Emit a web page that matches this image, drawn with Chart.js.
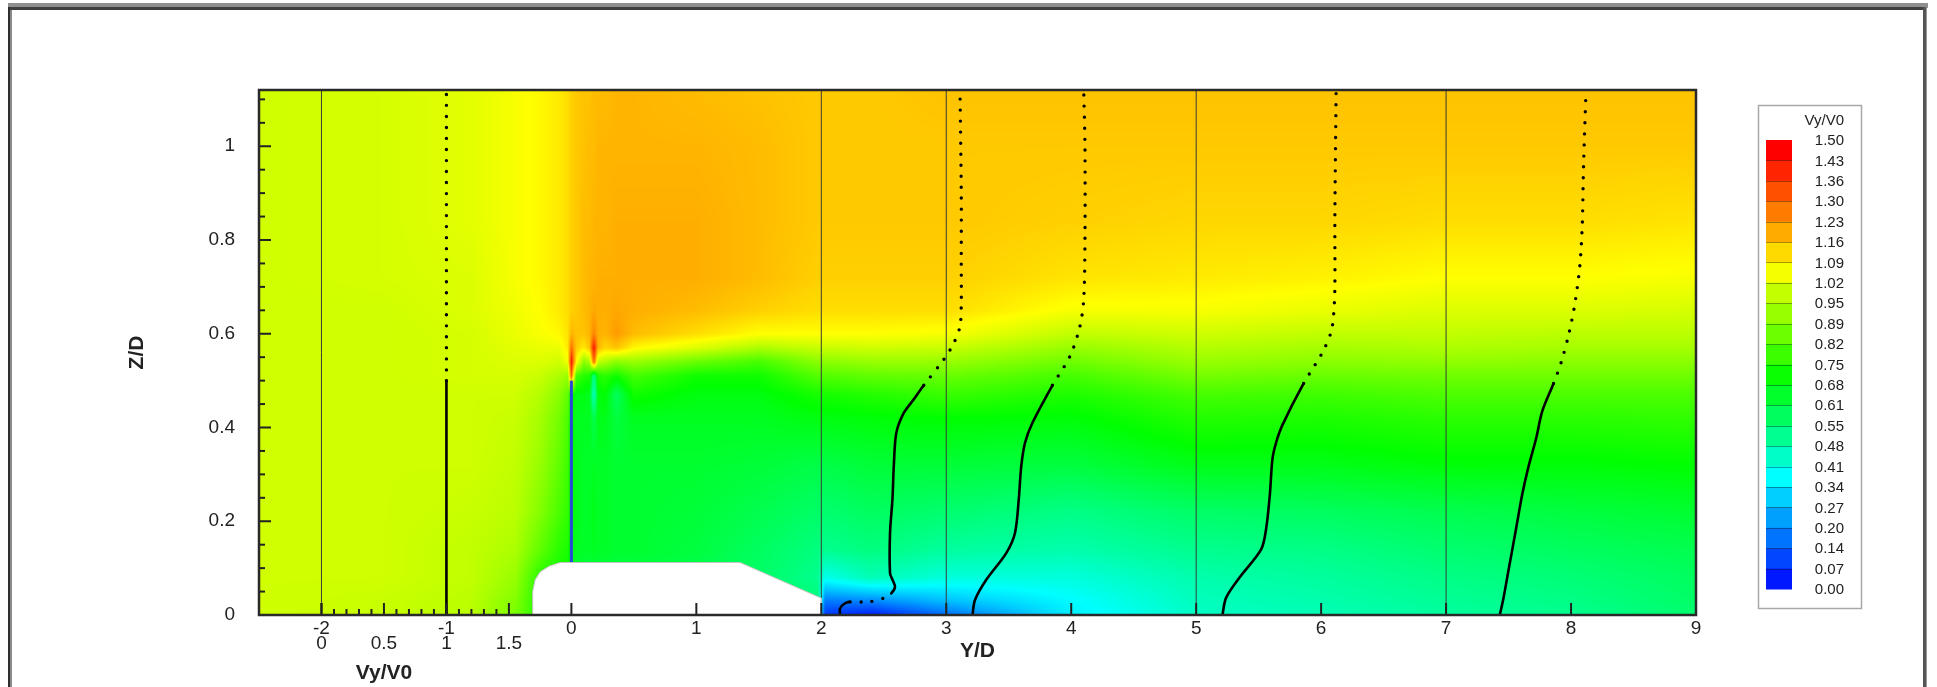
<!DOCTYPE html>
<html>
<head>
<meta charset="utf-8">
<script src="https://cdn.jsdelivr.net/npm/chart.js@4.4.1/dist/chart.umd.min.js"></script>
<style>
  html, body { margin: 0; padding: 0; background: #fff; }
  canvas { display: block; }
</style>
</head>
<body>
<canvas id="myChart" width="1937" height="687"></canvas>
<script>
const FONT = "'Liberation Sans', Arial, Helvetica, sans-serif";

const xMin = -2.5, xMax = 9, zMax = 1.12;

// contour field Vy/V0: one column per gridX entry, values bottom -> top along gridZ
const gridX = [-2.5, -1.5, -0.8, -0.45, -0.25, -0.1, -0.03, 0, 0.04, 0.1, 0.145, 0.18, 0.215, 0.27, 0.36, 0.5,
               1.0, 1.5, 1.97, 2.03, 2.4, 3.0, 4.0, 5.0, 6.0, 7.0, 8.0, 9.0];
const gridZ = [0, 0.03, 0.08, 0.14, 0.22, 0.32, 0.42, 0.47, 0.51, 0.54, 0.57, 0.6, 0.65, 0.72, 0.84, 1.0, 1.12];
const vyField = [
  [1.00,1.00,1.00,1.00,1.00,1.00,1.00,1.00,1.00,1.00,1.00,1.00,1.00,1.00,1.00,1.00,1.00],
  [0.99,0.99,1.00,1.00,1.00,1.00,1.00,1.00,1.00,1.00,1.00,1.00,1.00,1.01,1.01,1.01,1.01],
  [0.97,0.97,0.98,0.98,0.99,1.00,1.00,1.00,1.01,1.01,1.01,1.01,1.02,1.02,1.03,1.03,1.03],
  [0.88,0.89,0.92,0.95,0.97,0.98,0.99,1.00,1.01,1.02,1.03,1.04,1.05,1.06,1.06,1.06,1.06],
  [0.74,0.74,0.76,0.84,0.89,0.92,0.94,0.96,0.99,1.02,1.04,1.06,1.07,1.08,1.08,1.08,1.08],
  [0.72,0.72,0.72,0.76,0.81,0.84,0.87,0.90,0.95,1.00,1.04,1.08,1.10,1.10,1.10,1.10,1.10],
  [0.70,0.70,0.70,0.74,0.77,0.79,0.81,0.84,0.92,1.05,1.10,1.11,1.12,1.12,1.12,1.12,1.12],
  [0.66,0.66,0.66,0.68,0.70,0.70,0.70,0.72,1.30,1.42,1.28,1.18,1.14,1.14,1.14,1.14,1.14],
  [0.63,0.63,0.63,0.66,0.67,0.67,0.66,0.68,0.80,1.08,1.15,1.16,1.15,1.15,1.15,1.15,1.15],
  [0.62,0.62,0.62,0.65,0.65,0.65,0.66,0.68,0.75,0.90,1.10,1.16,1.17,1.17,1.17,1.16,1.16],
  [0.62,0.62,0.62,0.65,0.65,0.65,0.66,0.66,0.74,0.95,1.16,1.18,1.18,1.18,1.17,1.17,1.16],
  [0.62,0.62,0.62,0.66,0.67,0.66,0.60,0.45,0.52,1.30,1.42,1.25,1.20,1.18,1.18,1.17,1.17],
  [0.62,0.62,0.62,0.65,0.65,0.65,0.67,0.68,0.74,0.98,1.18,1.19,1.19,1.19,1.18,1.18,1.17],
  [0.62,0.62,0.62,0.65,0.65,0.65,0.67,0.70,0.76,0.95,1.13,1.18,1.19,1.19,1.18,1.18,1.17],
  [0.62,0.62,0.62,0.64,0.64,0.64,0.62,0.58,0.72,0.90,1.16,1.22,1.20,1.19,1.19,1.18,1.18],
  [0.62,0.62,0.62,0.64,0.64,0.64,0.66,0.72,0.80,0.92,1.08,1.17,1.19,1.19,1.19,1.18,1.18],
  [0.60,0.60,0.60,0.62,0.63,0.64,0.66,0.68,0.72,0.85,1.02,1.12,1.17,1.19,1.19,1.18,1.17],
  [0.57,0.57,0.57,0.58,0.60,0.63,0.66,0.68,0.72,0.80,0.95,1.07,1.14,1.17,1.17,1.17,1.16],
  [0.55,0.55,0.52,0.54,0.57,0.61,0.68,0.73,0.82,0.90,0.99,1.07,1.12,1.14,1.15,1.15,1.15],
  [0.08,0.18,0.40,0.52,0.56,0.61,0.68,0.73,0.82,0.90,0.99,1.07,1.12,1.14,1.15,1.15,1.15],
  [0.04,0.20,0.47,0.54,0.58,0.63,0.69,0.75,0.84,0.92,1.00,1.07,1.12,1.14,1.15,1.15,1.15],
  [0.16,0.28,0.42,0.50,0.56,0.63,0.70,0.78,0.85,0.92,0.99,1.06,1.12,1.14,1.15,1.15,1.16],
  [0.35,0.37,0.42,0.48,0.53,0.62,0.69,0.74,0.80,0.86,0.92,0.98,1.06,1.11,1.14,1.15,1.16],
  [0.45,0.46,0.48,0.52,0.57,0.67,0.75,0.80,0.87,0.92,0.96,1.00,1.06,1.10,1.13,1.15,1.16],
  [0.47,0.48,0.50,0.53,0.58,0.67,0.74,0.79,0.85,0.90,0.94,0.98,1.04,1.09,1.13,1.15,1.16],
  [0.50,0.51,0.53,0.56,0.60,0.69,0.76,0.81,0.86,0.91,0.95,0.98,1.02,1.07,1.12,1.15,1.16],
  [0.52,0.53,0.55,0.58,0.62,0.69,0.76,0.81,0.86,0.90,0.94,0.97,1.02,1.07,1.12,1.15,1.16],
  [0.56,0.57,0.58,0.60,0.64,0.70,0.77,0.81,0.86,0.90,0.94,0.97,1.01,1.06,1.11,1.15,1.16]
];

// colour map of the flood and of the legend
const cmapStops = [0, 0.375, 0.70, 1.07, 1.45, 1.50];
const cmapColors = [[0, 0, 255], [0, 255, 255], [0, 255, 0], [255, 255, 0], [255, 0, 0], [255, 0, 0]];
const legendLevels = ["1.50", "1.43", "1.36", "1.30", "1.23", "1.16", "1.09", "1.02", "0.95", "0.89", "0.82", "0.75",
                      "0.68", "0.61", "0.55", "0.48", "0.41", "0.34", "0.27", "0.20", "0.14", "0.07", "0.00"];

// body outline (white, zero field) and the thin plate at Y/D = 0
const bodyY = [-0.31, -0.31, -0.29, -0.25, -0.18, -0.09, 1.35, 2.0, 2.0];
const bodyZ = [0, 0.05, 0.075, 0.092, 0.104, 0.112, 0.112, 0.036, 0];
const plateZ = [0.112, 0.5];

// velocity profiles: station Y/D and Vy/V0 against Z/D
const stations = [-2, 2, 3, 5, 7];
const vyTicks = [0, 0.5, 1, 1.5];
const profZ0 = [0, 0.5, 1.12];
const profVy0 = [1, 1, 1];
const profZ1 = [0, 0.014, 0.025, 0.028, 0.028, 0.037, 0.046, 0.06, 0.075, 0.089, 0.175, 0.25, 0.317, 0.388, 0.431, 0.46, 0.49, 0.545, 0.58, 0.616, 0.666, 0.75, 0.9, 1.12];
const profVy1 = [0.15, 0.15, 0.19, 0.23, 0.38, 0.51, 0.56, 0.59, 0.57, 0.55, 0.55, 0.57, 0.58, 0.60, 0.66, 0.74, 0.82, 0.98, 1.06, 1.11, 1.12, 1.12, 1.12, 1.11];
const profZ2 = [0, 0.032, 0.075, 0.132, 0.175, 0.246, 0.317, 0.367, 0.41, 0.49, 0.552, 0.616, 0.673, 0.8, 1.0, 1.12];
const profVy2 = [0.21, 0.23, 0.32, 0.48, 0.55, 0.58, 0.60, 0.63, 0.69, 0.85, 0.99, 1.07, 1.10, 1.11, 1.11, 1.10];
const profZ3 = [0, 0.037, 0.081, 0.14, 0.184, 0.258, 0.332, 0.368, 0.405, 0.494, 0.56, 0.604, 0.641, 0.70, 0.847, 1.12];
const profVy3 = [0.21, 0.24, 0.35, 0.52, 0.56, 0.59, 0.61, 0.64, 0.69, 0.86, 1.01, 1.08, 1.10, 1.11, 1.11, 1.12];
const profZ4 = [0, 0.037, 0.096, 0.184, 0.258, 0.317, 0.376, 0.435, 0.494, 0.538, 0.597, 0.663, 0.744, 0.833, 0.958, 1.12];
const profVy4 = [0.43, 0.46, 0.50, 0.56, 0.61, 0.66, 0.72, 0.77, 0.86, 0.92, 0.98, 1.03, 1.07, 1.09, 1.10, 1.12];
// z ranges where the profile samples are sparse (drawn as dots)
const sparseUpper = [0.49, 2];
const sparseWall = [0.027, 0.05];

const profZ = [profZ0, profZ1, profZ2, profZ3, profZ4];
const profVy = [profVy0, profVy1, profVy2, profVy3, profVy4];
const profSparse = [[sparseUpper], [sparseWall, sparseUpper], [sparseUpper], [sparseUpper], [sparseUpper]];

function cmap(v) {
  v = Math.max(cmapStops[0], Math.min(cmapStops[cmapStops.length - 1], v));
  let k = 0;
  while (k < cmapStops.length - 2 && v > cmapStops[k + 1]) k++;
  const t = (v - cmapStops[k]) / (cmapStops[k + 1] - cmapStops[k]);
  const a = cmapColors[k], b = cmapColors[k + 1];
  return [a[0] + (b[0] - a[0]) * t, a[1] + (b[1] - a[1]) * t, a[2] + (b[2] - a[2]) * t];
}

function locate(arr, v) {
  if (v <= arr[0]) return [0, 0];
  if (v >= arr[arr.length - 1]) return [arr.length - 2, 1];
  let i = 0;
  while (v > arr[i + 1]) i++;
  return [i, (v - arr[i]) / (arr[i + 1] - arr[i])];
}

const framePlugin = {
  id: 'frame',
  beforeDraw(chart) {
    const { ctx, width, height } = chart;
    ctx.save();
    ctx.fillStyle = '#fff';
    ctx.fillRect(0, 0, width, height);
    ctx.fillStyle = '#8f8f8f';
    ctx.fillRect(8, 3, 1920, 5);
    ctx.fillStyle = '#404040';
    ctx.fillRect(8, 7, 1919, 3);
    ctx.fillStyle = '#2e2e2e';
    ctx.fillRect(8, 7, 2, height);
    ctx.fillStyle = '#8a8a8a';
    ctx.fillRect(10, 10, 2, height);
    ctx.fillStyle = '#555';
    ctx.fillRect(1923, 7, 3, height);
    ctx.fillStyle = '#999';
    ctx.fillRect(1926, 7, 1, height);
    ctx.restore();
  }
};

const fieldPlugin = {
  id: 'field',
  beforeDatasetsDraw(chart) {
    const { ctx, chartArea: a, scales: { x, y } } = chart;
    const left = Math.round(a.left), top = Math.round(a.top);
    const w = Math.round(a.right) - left, h = Math.round(a.bottom) - top;
    const img = ctx.createImageData(w, h);
    const cols = [], rows = [];
    for (let i = 0; i < w; i++) cols.push(locate(gridX, x.getValueForPixel(left + i + 0.5)));
    for (let j = 0; j < h; j++) rows.push(locate(gridZ, y.getValueForPixel(top + j + 0.5)));
    for (let j = 0; j < h; j++) {
      const [r, rt] = rows[j];
      for (let i = 0; i < w; i++) {
        const [c, ct] = cols[i];
        const lo = vyField[c][r] * (1 - ct) + vyField[c + 1][r] * ct;
        const hi = vyField[c][r + 1] * (1 - ct) + vyField[c + 1][r + 1] * ct;
        const col = cmap(lo * (1 - rt) + hi * rt);
        const k = (j * w + i) * 4;
        img.data[k] = col[0];
        img.data[k + 1] = col[1];
        img.data[k + 2] = col[2];
        img.data[k + 3] = 255;
      }
    }
    ctx.putImageData(img, left, top);
  }
};

const axesPlugin = {
  id: 'axesInside',
  afterDatasetsDraw(chart) {
    const { ctx, chartArea: a, scales: { x, y, x2 } } = chart;
    ctx.save();
    ctx.strokeStyle = '#222';
    ctx.lineWidth = 2;
    const seg = (x0, y0, x1, y1) => { ctx.beginPath(); ctx.moveTo(x0, y0); ctx.lineTo(x1, y1); ctx.stroke(); };
    x.ticks.forEach(t => { const px = x.getPixelForValue(t.value); seg(px, a.bottom, px, a.bottom - 12); });
    for (let k = 0; k * 0.05 < zMax; k++) {
      const py = y.getPixelForValue(k * 0.05);
      seg(a.left, py, a.left + (k % 4 === 0 ? 12 : 6), py);
    }
    for (let k = 0; k <= 15; k++) {
      const px = x2.getPixelForValue(k / 10);
      seg(px, a.bottom, px, a.bottom - (k % 5 === 0 ? 12 : 6));
    }
    ctx.strokeStyle = '#2a2a2a';
    ctx.lineWidth = 2.5;
    ctx.strokeRect(a.left, a.top, a.right - a.left, a.bottom - a.top);
    // title of the Vy/V0 axis
    ctx.fillStyle = '#222';
    ctx.font = 'bold 21px ' + FONT;
    ctx.textAlign = 'center';
    ctx.textBaseline = 'middle';
    ctx.fillText('Vy/V0', x2.getPixelForValue(0.5), 673);
    ctx.restore();
  }
};

const legendPlugin = {
  id: 'colorLegend',
  afterDraw(chart) {
    const ctx = chart.ctx;
    const barLeft = 1766, barW = 26, barTop = 140, barBottom = 589, textRight = 1844;
    const n = legendLevels.length - 1;
    const bh = (barBottom - barTop) / n;
    ctx.save();
    ctx.strokeStyle = '#a8a8a8';
    ctx.lineWidth = 1.5;
    ctx.strokeRect(1758.5, 105.5, 103, 503);
    for (let k = 0; k < n; k++) {
      const c = cmap((+legendLevels[k] + +legendLevels[k + 1]) / 2);
      ctx.fillStyle = `rgb(${c[0]},${c[1]},${c[2]})`;
      ctx.fillRect(barLeft, barTop + k * bh, barW, bh + 0.5);
    }
    ctx.strokeStyle = 'rgba(0,0,0,0.35)';
    ctx.lineWidth = 1;
    for (let k = 1; k < n; k++) {
      const yy = Math.round(barTop + k * bh) + 0.5;
      ctx.beginPath(); ctx.moveTo(barLeft, yy); ctx.lineTo(barLeft + barW, yy); ctx.stroke();
    }
    ctx.fillStyle = '#222';
    ctx.font = '15px ' + FONT;
    ctx.textAlign = 'right';
    ctx.textBaseline = 'middle';
    ctx.fillText('Vy/V0', textRight, 121);
    legendLevels.forEach((s, k) => ctx.fillText(s, textRight, barTop + k * bh + 1));
    ctx.restore();
  }
};

const datasets = [];
const onXY = { xAxisID: 'x', yAxisID: 'y' };
datasets.push({
  ...onXY,
  data: bodyY.map((v, i) => ({ x: v, y: bodyZ[i] })),
  fill: 'origin', backgroundColor: '#ffffff', borderColor: '#c4c4c4', borderWidth: 1,
  pointRadius: 0, tension: 0
});
stations.forEach(s => datasets.push({
  ...onXY,
  data: [{ x: s, y: 0 }, { x: s, y: zMax }],
  borderColor: '#3a3a3a', borderWidth: 1, pointRadius: 0, fill: false
}));
datasets.push({
  ...onXY,
  data: plateZ.map(z => ({ x: 0, y: z })),
  borderColor: '#2a48d8', borderWidth: 3, pointRadius: 0, fill: false
});
stations.forEach((s, p) => {
  const sparse = profSparse[p];
  const isSparse = c => {
    const zm = (c.p0.parsed.y + c.p1.parsed.y) / 2;
    return sparse.some(b => zm > b[0] && zm < b[1]);
  };
  datasets.push({
    ...onXY,
    data: profZ[p].map((z, i) => ({ x: s + profVy[p][i], y: z })),
    borderColor: '#000', borderWidth: 2.6, borderCapStyle: 'round', pointRadius: 0, fill: false, tension: 0.3,
    segment: {
      borderDash: c => isSparse(c) ? [0, 11] : undefined,
      borderWidth: c => isSparse(c) ? 3.4 : undefined
    }
  });
});

const tickFont = { size: 19, family: FONT };
const titleFont = { size: 21, weight: 'bold', family: FONT };
const fmt = v => String(+(+v).toFixed(2));

new Chart(document.getElementById('myChart'), {
  type: 'line',
  data: { datasets },
  options: {
    responsive: false,
    animation: false,
    events: [],
    layout: { padding: { left: 0, top: 90, right: 241, bottom: 0 } },
    plugins: { legend: { display: false }, tooltip: { enabled: false } },
    scales: {
      x: {
        type: 'linear', position: 'bottom', weight: 1, min: xMin, max: xMax,
        afterFit: s => { s.height = 72; },
        grid: { display: false, drawTicks: false },
        border: { display: false },
        ticks: { stepSize: 1, includeBounds: false, padding: 2, autoSkip: false, maxRotation: 0,
                 font: tickFont, color: '#222', callback: fmt },
        title: { display: true, text: 'Y/D', font: titleFont, color: '#222', padding: { top: 0, bottom: 23 } }
      },
      y: {
        type: 'linear', position: 'left', min: 0, max: zMax,
        afterFit: s => { s.width = 259; },
        grid: { display: false, drawTicks: false },
        border: { display: false },
        ticks: { stepSize: 0.2, includeBounds: false, padding: 24, autoSkip: false,
                 font: tickFont, color: '#222', callback: fmt },
        title: { display: true, text: 'Z/D', font: titleFont, color: '#222', padding: { top: 125, bottom: 0 } }
      },
      // Vy/V0 axis of the inlet profile: its zero sits on the station Y/D = -2
      x2: {
        type: 'linear', position: 'bottom', weight: -1,
        min: xMin - stations[0], max: xMax - stations[0],
        afterBuildTicks: s => { s.ticks = vyTicks.map(v => ({ value: v })); },
        afterFit: s => { s.height = 0; },
        grid: { display: false, drawTicks: false },
        border: { display: false },
        ticks: { mirror: true, padding: -40, autoSkip: false, maxRotation: 0, font: tickFont, color: '#222', callback: fmt }
      }
    }
  },
  plugins: [framePlugin, fieldPlugin, axesPlugin, legendPlugin]
});
</script>
</body>
</html>
